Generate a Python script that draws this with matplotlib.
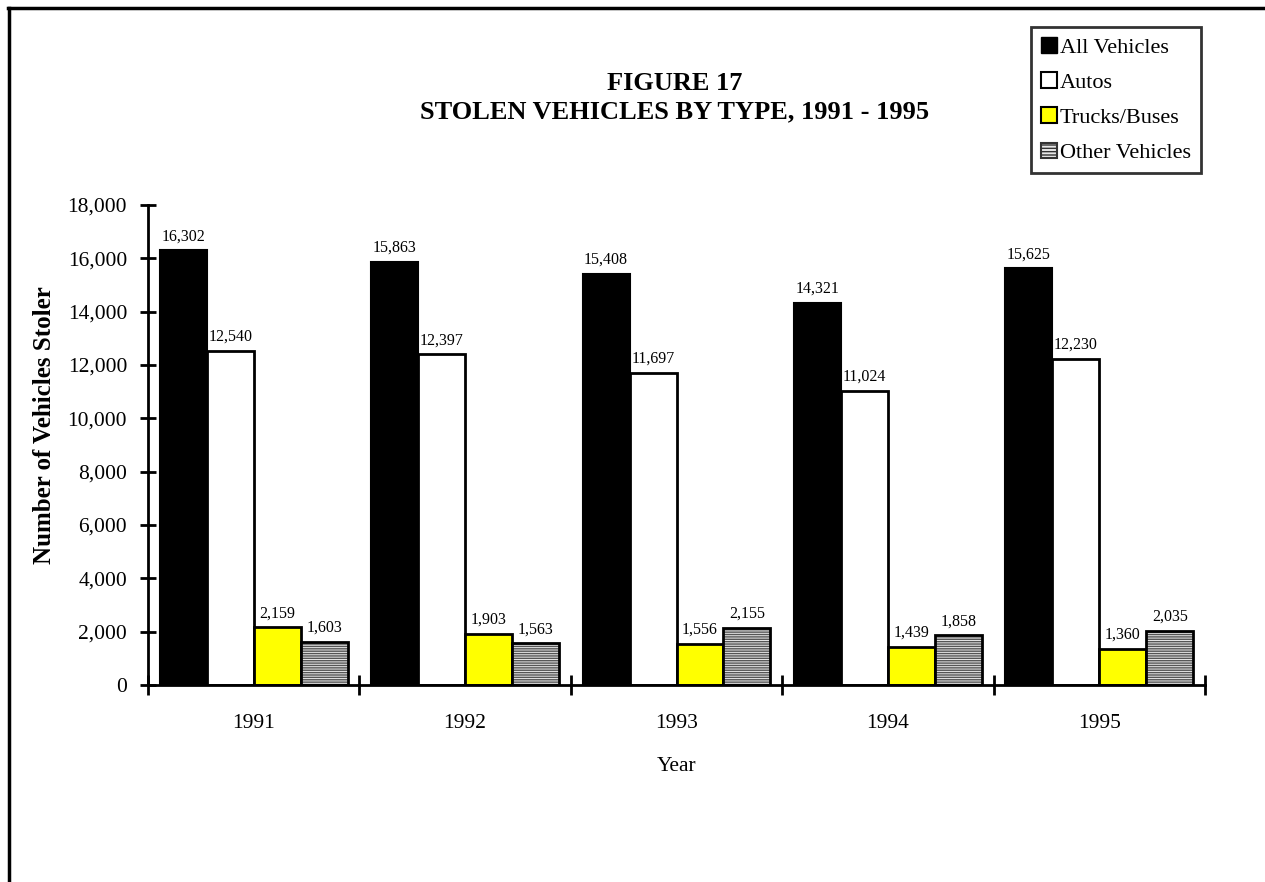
import numpy as np
import matplotlib
matplotlib.use('Agg')
import matplotlib.pyplot as plt
from matplotlib.lines import Line2D
from matplotlib.patches import Patch

plt.rcParams['font.family'] = ['Liberation Serif', 'DejaVu Serif']
plt.rcParams['hatch.linewidth'] = 1.0

years = ['1991', '1992', '1993', '1994', '1995']
series = ['All Vehicles', 'Autos', 'Trucks/Buses', 'Other Vehicles']
all_vehicles = [16302, 15863, 15408, 14321, 15625]
autos = [12540, 12397, 11697, 11024, 12230]
trucks = [2159, 1903, 1556, 1439, 1360]
other = [1603, 1563, 2155, 1858, 2035]

fig = plt.figure(figsize=(12.65, 8.82), dpi=100)
ax = fig.add_axes([148/1265, 1-685/882, (1205-148)/1265, (685-205)/882])

x = np.arange(len(years))
w = 0.222
offs = [-1.5*w, -0.5*w, 0.5*w, 1.5*w]

ax.bar(x+offs[0], all_vehicles, w, color='black', edgecolor='black', linewidth=1.5)
ax.bar(x+offs[1], autos, w, color='white', edgecolor='black', linewidth=2)
ax.bar(x+offs[2], trucks, w, color='#ffff00', edgecolor='black', linewidth=2)
# striped bars: hatch first, then outline
ax.bar(x+offs[3], other, w, color='#e8e8e8', edgecolor='#555555', linewidth=0, hatch='-------')
ax.bar(x+offs[3], other, w, color='none', edgecolor='black', linewidth=2)

for vals, o in zip([all_vehicles, autos, trucks, other], offs):
    for xi, v in zip(x, vals):
        ax.text(xi+o, v+230, f'{v:,}', ha='center', va='bottom', fontsize=11.5)

ax.set_xlim(-0.5, len(years)-0.5)
ax.set_ylim(0, 18000)
ax.set_yticks(np.arange(0, 18001, 2000))
ax.set_yticklabels([f'{v:,}' for v in range(0, 18001, 2000)], fontsize=15.5)
ax.set_xticks(np.arange(-0.5, len(years), 1.0))
ax.set_xticklabels([])
ax.set_xticks(x, minor=True)
ax.set_xticklabels(years, minor=True, fontsize=15.5)
ax.tick_params(axis='y', direction='inout', length=12, width=2, pad=9)
ax.tick_params(axis='x', which='major', direction='inout', length=14, width=2)
ax.tick_params(axis='x', which='minor', length=0, pad=21)
for s in ['top', 'right']:
    ax.spines[s].set_visible(False)
for s in ['left', 'bottom']:
    ax.spines[s].set_linewidth(2)

ax.set_xlabel('Year', fontsize=15.5, labelpad=17)
ax.set_ylabel('Number of Vehicles Stoler', fontsize=18, fontweight='bold')
ax.yaxis.set_label_coords(-0.087, 0.542)

fig.text(0.533, 1-83/882, 'FIGURE 17', ha='center', va='center', fontsize=19, fontweight='bold')
fig.text(0.533, 1-112/882, 'STOLEN VEHICLES BY TYPE, 1991 - 1995', ha='center', va='center',
         fontsize=19, fontweight='bold')

handles = [Patch(facecolor='black', edgecolor='black'),
           Patch(facecolor='white', edgecolor='black', linewidth=1.5),
           Patch(facecolor='#ffff00', edgecolor='black', linewidth=1.5),
           Patch(facecolor='#e8e8e8', edgecolor='#333333', hatch='-----', linewidth=1.5)]
leg = fig.legend(handles, series, loc='upper right', bbox_to_anchor=(1201/1265, 1-27/882),
                 fontsize=16, frameon=True, fancybox=False, handlelength=0.7, handleheight=0.7,
                 handletextpad=0.15, labelspacing=0.66, borderpad=0.45, borderaxespad=0)
leg.get_frame().set_edgecolor('black')
leg.get_frame().set_linewidth(2)

# page frame (only left and top edges visible)
fig.add_artist(Line2D([9/1265, 9/1265], [0, 1-8/882], color='black', linewidth=2.5, transform=fig.transFigure))
fig.add_artist(Line2D([8/1265, 1], [1-8/882, 1-8/882], color='black', linewidth=2.5, transform=fig.transFigure))

plt.savefig('out.png', dpi=100)
